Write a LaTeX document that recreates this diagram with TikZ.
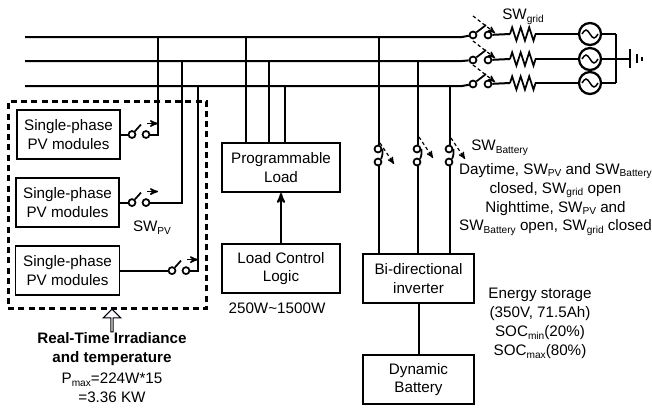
\documentclass[tikz,border=0pt]{standalone}
\usepackage{fontspec}
\setmainfont{Liberation Sans}
\usepackage{tikz}
\usetikzlibrary{arrows,decorations.pathmorphing,positioning,shapes.arrows}
\newcommand{\low}[1]{\raisebox{-0.35ex}{\fontsize{7.6}{8}\selectfont #1}}
\tikzset{module/.style={rectangle,draw=black,line width=1.3pt,align=center,inner sep=0pt,minimum height=37pt},
		wire/.style={line width=1.5pt},
		pre/.style={<-,>=stealth',line width=1.5pt},
		contact/.style={circle,draw=black,line width=1.3pt,fill=white,minimum size=5.2pt,inner sep=0pt},
		blade/.style={line width=1.3pt},
		opening/.style={->,>=stealth',line width=0.9pt,dashed,dash pattern=on 2.5pt off 2pt},
		closing/.style={->,>=stealth',line width=1.1pt},
		coil/.style={line width=1.3pt,decorate,decoration={zigzag,segment length=6.4pt,amplitude=5pt}},
		source/.style={circle,draw=black,line width=1.7pt,minimum size=16.5pt,inner sep=0pt,
			path picture={\draw[line width=1.1pt] ([xshift=-6pt]path picture bounding box.center) sin ++(3pt,3pt) cos ++(3pt,-3pt) sin ++(3pt,-3pt) cos ++(3pt,3pt);}},
		note/.style={align=center,inner sep=0pt,font=\fontsize{11.4}{14.2}\selectfont}}

\begin{document}
\begin{tikzpicture}[x=0.75pt,y=-0.75pt,font=\fontsize{11.4}{14.2}\selectfont]
		\useasboundingbox (0,0) rectangle (652,408);
		% three phase buses and the grid side
		\coordinate (neutral) at (616,34);
		\coordinate (neutral-low) at (616,83);
		\foreach \n/\yl/\yr in {1/37/34,2/61/59,3/86/83} {
			\coordinate (bus\n) at (25,\yl);
			\coordinate (bus\n-end) at (462,\yl);
			\node[contact] (grid\n a) at (473,\yr+1) {};
			\node[contact] (grid\n b) at (488,\yr+1) {};
			\coordinate (coil\n a) at (510,\yr);
			\coordinate (coil\n b) at (538,\yr);
			\node[source] (ac\n) at (590,\yr) {};
			\coordinate (ac\n-r) at (616,\yr);
			\coordinate (open\n a) at (473,\yr-18);
			\coordinate (open\n b) at (495,\yr-1);
			\draw[wire] (bus\n) -- (bus\n-end) -- (grid\n a);
			\draw[blade] (grid\n a) -- ++(13,-10);
			\draw[opening] (open\n a) -- (open\n b);
			\draw[wire] (grid\n b) -- (coil\n a);
			\draw[coil] (coil\n a) -- (coil\n b);
			\draw[wire] (coil\n b) -- (ac\n) -- (ac\n-r);
		}
		\draw[wire] (neutral) -- (neutral-low);
		\coordinate (earth) at (630,59);
		\draw[wire] (ac2-r) -- (earth);
		\draw[wire] (630,49) -- (630,68);
		\draw[wire] (637,54) -- (637,63);
		\draw[wire] (642,57) -- (642,61);
		\node[note] (sw-grid) at (523,17) {SW\low{grid}};
		
		% PV side
		\node[module,minimum width=77pt] (pv1) at (68.5,134.5) {Single-phase\\PV modules};
		\node[module,minimum width=77pt] (pv2) [below=12.75pt of pv1,xshift=-0.75pt] {Single-phase\\PV modules};
		\node[module,minimum width=78pt] (pv3) [below=12.75pt of pv2] {Single-phase\\PV modules};
		\foreach \n/\xa/\xb/\xt/\yt in {1/132/146/158/37,2/132/146/182/61,3/172/186/198/86} {
			\coordinate (tap\n) at (\xt,\yt);
			\node[contact] (pvsw\n a) at (\xa,0 |- pv\n.east) {};
			\node[contact] (pvsw\n b) at (\xb,0 |- pv\n.east) {};
			\draw[wire] (pv\n.east) -- (pvsw\n a);
			\draw[wire] (pvsw\n b) -| (tap\n);
			\draw[blade] (pvsw\n a) -- ++(9,-10);
			\draw[closing] ([shift={(1,-11)}]pvsw\n b.center) -- ++(11,0);
		}
		\node[note] (sw-pv) at (152,228) {SW\low{PV}};
		\node[draw=black,line width=2.2pt,dash pattern=on 4.5pt off 3.2pt,minimum width=149pt,minimum height=155pt,inner sep=0pt] (pv-group) at (107.5,205) {};
		\node[single arrow,draw=black,fill=blue!4,line width=0.7pt,shape border rotate=90,minimum height=17pt,minimum width=13pt,single arrow head extend=2.5pt,inner sep=0pt] (irr-arrow) at (112,321) {};
		\node[note,font=\fontsize{11.4}{14.2}\selectfont\bfseries] (irr) at (112,349) {Real-Time Irradiance\\and temperature};
		\node[note] (pmax) at (112,388) {P\low{max}=224W*15\\=3.36 KW};
		
		% load
		\node[module,minimum width=88.5pt] (load) at (281,167.5) {Programmable\\Load};
		\node[module,minimum width=88.5pt] (logic) [below=37.5pt of load] {Load Control\\Logic};
		\draw[pre] (load) -- (logic);
		\coordinate (load1) at (246,37);
		\coordinate (load2) at (269,61);
		\coordinate (load3) at (285,86);
		\draw[wire] (load1) -- (load1 |- load.north);
		\draw[wire] (load2) -- (load2 |- load.north);
		\draw[wire] (load3) -- (load3 |- load.north);
		\node[note] (load-range) at (277,308) {250W\textasciitilde1500W};
		
		% battery side
		\node[module,minimum width=83pt] (inverter) at (418.5,278.5) {Bi-directional\\inverter};
		\node[module,minimum width=83pt] (battery) [below=37.5pt of inverter] {Dynamic\\Battery};
		\draw[wire] (inverter) -- (battery);
		\foreach \n/\x/\yt/\ys in {1/379/37/143,2/418/61/137,3/450/86/138} {
			\coordinate (bat\n) at (\x,\yt);
			\node[contact] (batsw\n a) at (\x-1,149) {};
			\node[contact] (batsw\n b) at (\x-1,162) {};
			\draw[wire] (bat\n) -- (bat\n |- batsw\n a.north);
			\draw[wire] (bat\n |- batsw\n b.south) -- (bat\n |- inverter.north);
			\draw[blade] (batsw\n a.east) to[bend left=15] (batsw\n b.north east);
			\draw[opening] (\x+1,\ys) -- ++(14,21);
		}
		\node[note,anchor=west] (sw-battery) at (471,148) {SW\low{Battery}};
		\node[note] (modes) at (555.5,199.5) {Daytime, SW\low{PV} and SW\low{Battery}\\closed, SW\low{grid} open\\Nighttime, SW\low{PV} and\\SW\low{Battery} open, SW\low{grid} closed};
		\node[note] (storage) at (540,323.5) {Energy storage\\(350V, 71.5Ah)\\SOC\low{min}(20\%)\\SOC\low{max}(80\%)};
	\end{tikzpicture}
\end{document}
